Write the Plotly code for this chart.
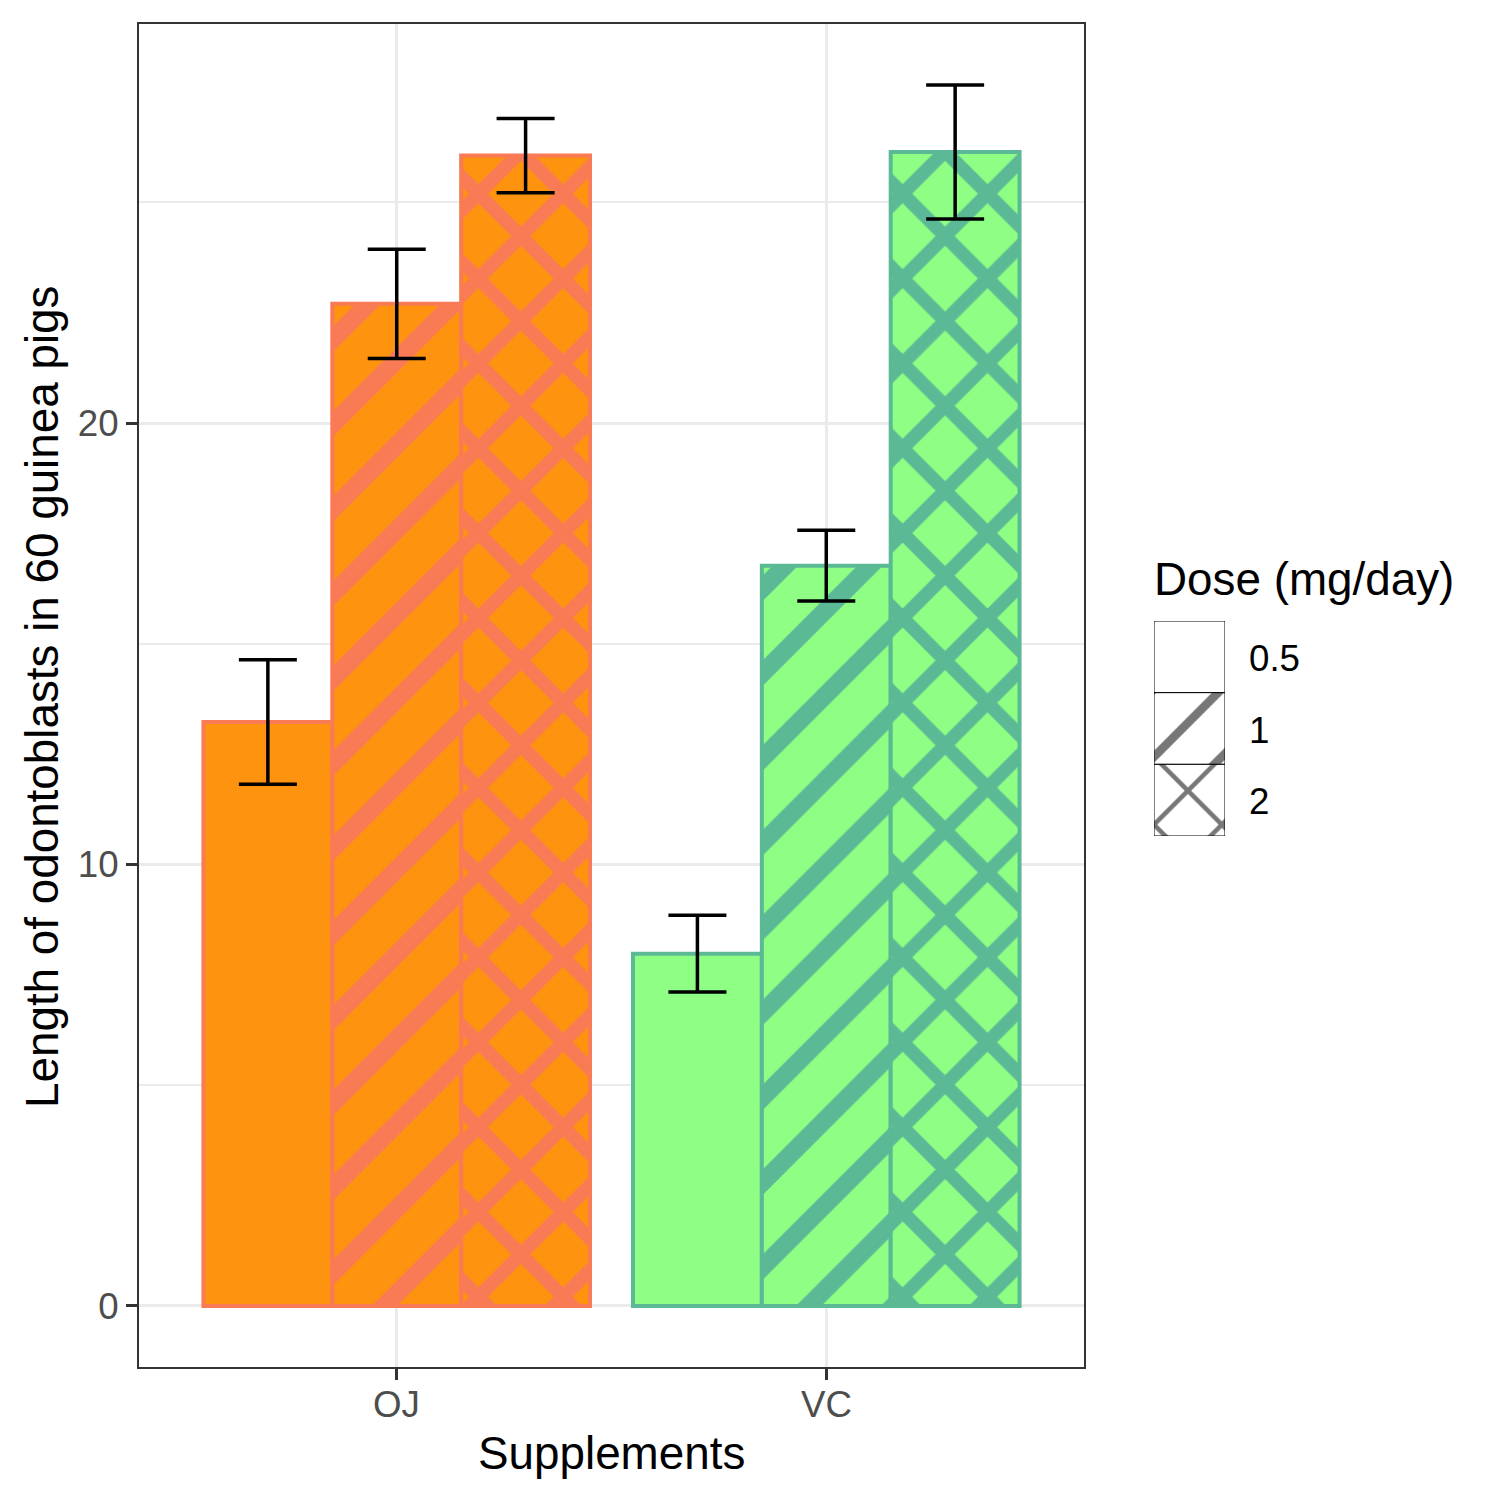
import plotly.graph_objects as go

# ---- data ----
supplements = ["OJ", "VC"]
doses = ["0.5", "1", "2"]
mean_d05 = [13.23, 7.98]
mean_d1 = [22.70, 16.77]
mean_d2 = [26.06, 26.14]
se_d05 = [1.41, 0.87]
se_d1 = [1.24, 0.80]
se_d2 = [0.84, 1.52]
y_ticks = [0, 10, 20]
y_minor = [5, 15, 25]

fill_cols = ["#FD930F", "#8EFE84"]
line_cols = ["#F97B55", "#5BBA95"]
shapes_by_dose = ["", "/", "x"]
solidity_by_dose = [0.2, 0.3, 0.4]

W = H = 1500
def px(x): return x / W
def py(y): return 1 - y / H

FONT = "Liberation Sans, Arial, Helvetica, sans-serif"

fig = go.Figure()
for dose, means, ses, shp, sol in zip(doses, [mean_d05, mean_d1, mean_d2],
                                      [se_d05, se_d1, se_d2], shapes_by_dose,
                                      solidity_by_dose):
    for i, s in enumerate(supplements):
        fig.add_trace(go.Bar(
            x=[s], y=[means[i]], name=dose, showlegend=False, offsetgroup=dose,
            marker=dict(color=fill_cols[i],
                        line=dict(color=line_cols[i], width=4),
                        pattern=dict(shape=shp, fgcolor=line_cols[i],
                                     bgcolor=fill_cols[i], fgopacity=1,
                                     size=60, solidity=sol, fillmode="overlay")),
            error_y=dict(type="data", array=[ses[i]], color="black",
                         thickness=3.5, width=29),
        ))

# legend keys drawn as a small stacked bar on its own axes
fig.add_trace(go.Bar(
    x=[0, 0, 0], y=[1, 1, 1], base=[2, 1, 0], width=1,
    xaxis="x2", yaxis="y2", showlegend=False, hoverinfo="skip",
    marker=dict(color="white", line=dict(color="black", width=1),
                pattern=dict(shape=shapes_by_dose, fgcolor="#777777", bgcolor="white",
                             fgopacity=1, size=48, solidity=0.18,
                             fillmode="overlay")),
))

fig.update_layout(
    width=W, height=H, margin=dict(l=0, r=0, t=0, b=0),
    paper_bgcolor="white", plot_bgcolor="white",
    barmode="group", bargap=0.1, bargroupgap=0,
    font=dict(family=FONT, color="black"),
    xaxis=dict(domain=[px(139), px(1084)], type="category", range=[-0.6, 1.6],
               categoryorder="array", categoryarray=supplements,
               showgrid=True, gridcolor="#EBEBEB", gridwidth=3,
               showline=True, linecolor="#333333", linewidth=2, mirror=True,
               ticks="outside", ticklen=11, tickwidth=2.5, tickcolor="#333333",
               showticklabels=False, zeroline=False),
    yaxis=dict(domain=[py(1367), py(24)], range=[-1.383, 29.04],
               tickvals=y_ticks, ticktext=[str(v) for v in y_ticks],
               showgrid=True, gridcolor="#EBEBEB", gridwidth=3,
               minor=dict(tickvals=y_minor, showgrid=True, gridcolor="#EBEBEB",
                          gridwidth=1.5, ticks=""),
               showline=True, linecolor="#333333", linewidth=2, mirror=True,
               ticks="outside", ticklen=11, tickwidth=2.5, tickcolor="#333333",
               tickfont=dict(size=36.7, color="#4D4D4D", family=FONT),
               zeroline=False),
    xaxis2=dict(domain=[px(1154), px(1225)], range=[-0.5, 0.5], visible=False,
                anchor="y2", fixedrange=True),
    yaxis2=dict(domain=[py(836), py(621)], range=[0, 3], visible=False,
                anchor="x2", fixedrange=True),
)

ann = [
    dict(text="Supplements", x=px(611.5), y=py(1453), font=dict(size=45.8)),
    dict(text="Length of odontoblasts in 60 guinea pigs", x=px(42), y=py(697),
         textangle=-90, font=dict(size=45.8)),
    dict(text="Dose (mg/day)", x=px(1152), y=py(579), xanchor="left",
         font=dict(size=45.8)),
]
for lab, yc in zip(doses, [658, 730, 802]):
    ann.append(dict(text=lab, x=px(1247), y=py(yc), xanchor="left",
                    font=dict(size=36.7)))
for a in ann:
    a.setdefault("xanchor", "center")
    a.update(xref="paper", yref="paper", showarrow=False, yanchor="middle")
    a["font"] = dict(family=FONT, color="black", size=a["font"]["size"])
for s in supplements:
    ann.append(dict(text=s, x=s, xref="x", y=py(1404), yref="paper",
                    showarrow=False, xanchor="center", yanchor="middle",
                    font=dict(family=FONT, size=36.7, color="#4D4D4D")))
fig.update_layout(annotations=ann)

fig.write_html("out.html")
